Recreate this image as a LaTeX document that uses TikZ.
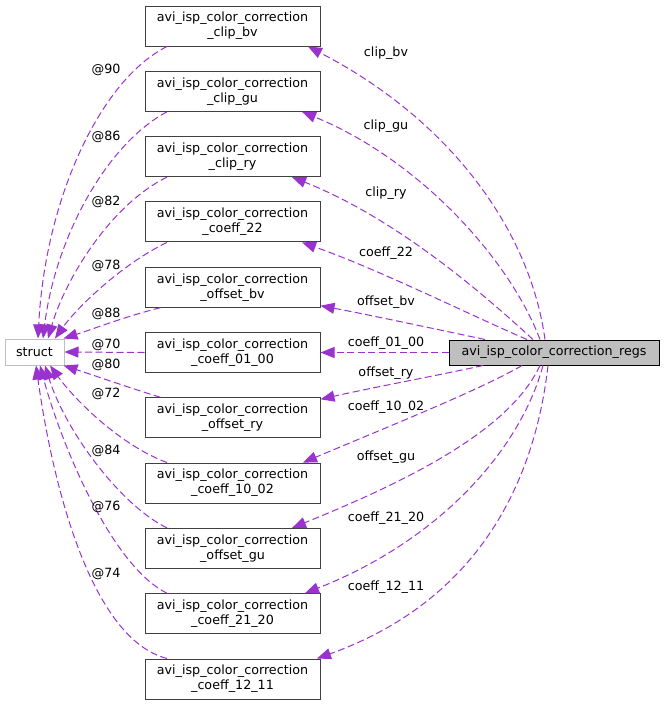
\documentclass[tikz,border=0pt]{standalone}
\usepackage{fontspec}
\setmainfont{DejaVu Sans}
\usepackage{xcolor}
\usepackage{tikz}
\usetikzlibrary{arrows.meta, positioning}

\definecolor{edgepurple}{HTML}{9A32CD}
\definecolor{boxgray}{HTML}{BFBFBF}
\definecolor{boxline}{HTML}{404040}

\begin{document}
\begin{tikzpicture}[
            x=1pt, y=-1pt,
            node distance=65.3pt,
            font=\fontsize{12.7}{15}\selectfont,
            member/.style={rectangle, draw=boxline, line width=1pt, fill=white, minimum width=175pt, minimum height=40pt, inner sep=1pt, align=center},
            lbl/.style={inner sep=0pt},
            arrow/.style={draw=edgepurple, line width=1pt, dash pattern=on 7pt off 3.5pt, -{Triangle[length=14pt,width=11pt,fill=edgepurple]}}
        ]
            \useasboundingbox (0,0) rectangle (664,705);

            \node[member] (clipbv) at (232.5,26) {avi\_isp\_color\_correction\\\_clip\_bv};
            \node[member, below of=clipbv] (clipgu) {avi\_isp\_color\_correction\\\_clip\_gu};
            \node[member, below of=clipgu] (clipry) {avi\_isp\_color\_correction\\\_clip\_ry};
            \node[member, below of=clipry] (coeff22) {avi\_isp\_color\_correction\\\_coeff\_22};
            \node[member, below of=coeff22] (offsetbv) {avi\_isp\_color\_correction\\\_offset\_bv};
            \node[member, below of=offsetbv] (coeff0100) {avi\_isp\_color\_correction\\\_coeff\_01\_00};
            \node[member, below of=coeff0100] (offsetry) {avi\_isp\_color\_correction\\\_offset\_ry};
            \node[member, below of=offsetry] (coeff1002) {avi\_isp\_color\_correction\\\_coeff\_10\_02};
            \node[member, below of=coeff1002] (offsetgu) {avi\_isp\_color\_correction\\\_offset\_gu};
            \node[member, below of=offsetgu] (coeff2120) {avi\_isp\_color\_correction\\\_coeff\_21\_20};
            \node[member, below of=coeff2120] (coeff1211) {avi\_isp\_color\_correction\\\_coeff\_12\_11};

            \node[rectangle, draw=boxgray, line width=1pt, minimum width=59pt, minimum height=26pt, inner sep=1pt] (struct) at (34.5,352) {struct};
            \node[rectangle, draw=black, line width=1pt, fill=boxgray, minimum width=210pt, minimum height=25pt, inner sep=1pt] (regs) at (554,352.5) {avi\_isp\_color\_correction\_regs};

            % members of the regs struct
            \draw[arrow] ([xshift=-9pt]regs.north) .. controls (530,230) and (450,120) .. ([xshift=75.5pt]clipbv.south);
            \draw[arrow] ([xshift=-14pt]regs.north) .. controls (510,260) and (420,160) .. ([xshift=69.5pt]clipgu.south);
            \draw[arrow] ([xshift=-21pt]regs.north) .. controls (490,300) and (400,220) .. ([xshift=59.5pt]clipry.south);
            \draw[arrow] ([xshift=-27pt]regs.north) .. controls (470,315) and (380,270) .. ([xshift=69.5pt]coeff22.south);
            \draw[arrow] ([xshift=-69pt]regs.north) .. controls (440,330) and (370,315) .. ([yshift=2pt]offsetbv.south east);
            \draw[arrow] (regs.west) -- (coeff0100.east);
            \draw[arrow] ([xshift=-71pt]regs.south) .. controls (440,375) and (370,388) .. ([yshift=-2pt]offsetry.north east);
            \draw[arrow] ([xshift=-32pt]regs.south) .. controls (480,390) and (380,430) .. ([xshift=70.5pt]coeff1002.north);
            \draw[arrow] ([xshift=-14pt]regs.south) .. controls (510,430) and (410,480) .. ([xshift=59.5pt]offsetgu.north);
            \draw[arrow] ([xshift=-11pt]regs.south) .. controls (520,450) and (440,540) .. ([xshift=72.5pt]coeff2120.north);
            \draw[arrow] ([xshift=-6pt]regs.south) .. controls (535,480) and (480,600) .. ([xshift=84.5pt]coeff1211.north);

            \node[lbl] (lclipbv) at (386,53) {clip\_bv};
            \node[lbl] (lclipgu) at (386,126) {clip\_gu};
            \node[lbl] (lclipry) at (386,193) {clip\_ry};
            \node[lbl] (lcoeff22) at (386,253) {coeff\_22};
            \node[lbl] (loffsetbv) at (386,302) {offset\_bv};
            \node[lbl] (lcoeff0100) at (386,343) {coeff\_01\_00};
            \node[lbl] (loffsetry) at (386,373) {offset\_ry};
            \node[lbl] (lcoeff1002) at (386,407) {coeff\_10\_02};
            \node[lbl] (loffsetgu) at (386,457) {offset\_gu};
            \node[lbl] (lcoeff2120) at (386,518) {coeff\_21\_20};
            \node[lbl] (lcoeff1211) at (386,587) {coeff\_12\_11};

            % every member is an anonymous struct
            \draw[arrow] ([xshift=-65.5pt]clipbv.south) .. controls (100,80) and (45,200) .. ([xshift=3.5pt]struct.north);
            \draw[arrow] ([xshift=-65.5pt]clipgu.south) .. controls (105,145) and (55,240) .. ([xshift=8.5pt]struct.north);
            \draw[arrow] ([xshift=-65.5pt]clipry.south) .. controls (110,205) and (65,280) .. ([xshift=13.5pt]struct.north);
            \draw[arrow] ([xshift=-65.5pt]coeff22.south) .. controls (120,265) and (75,310) .. ([xshift=20.5pt]struct.north);
            \draw[arrow] ([xshift=-72pt]offsetbv.south) .. controls (130,315) and (90,330) .. ([xshift=-1pt]struct.north east);
            \draw[arrow] (coeff0100.west) -- (struct.east);
            \draw[arrow] ([xshift=-72pt]offsetry.north) .. controls (130,388) and (90,374) .. ([xshift=-1pt]struct.south east);
            \draw[arrow] ([xshift=-65.5pt]coeff1002.north) .. controls (120,445) and (75,400) .. ([xshift=15.5pt]struct.south);
            \draw[arrow] ([xshift=-65.5pt]offsetgu.north) .. controls (120,505) and (65,430) .. ([xshift=10.5pt]struct.south);
            \draw[arrow] ([xshift=-65.5pt]coeff2120.north) .. controls (110,565) and (60,440) .. ([xshift=5.5pt]struct.south);
            \draw[arrow] ([xshift=-65.5pt]coeff1211.north) .. controls (95,640) and (55,500) .. ([xshift=1.5pt]struct.south);

            \node[lbl] (l90) at (106,70) {@90};
            \node[lbl] (l86) at (106,137) {@86};
            \node[lbl] (l82) at (106,202) {@82};
            \node[lbl] (l78) at (106,266) {@78};
            \node[lbl] (l88) at (106,314) {@88};
            \node[lbl] (l70) at (106,345) {@70};
            \node[lbl] (l80) at (106,365) {@80};
            \node[lbl] (l72) at (106,394) {@72};
            \node[lbl] (l84) at (106,451) {@84};
            \node[lbl] (l76) at (106,507) {@76};
            \node[lbl] (l74) at (106,574) {@74};
        \end{tikzpicture}
\end{document}
